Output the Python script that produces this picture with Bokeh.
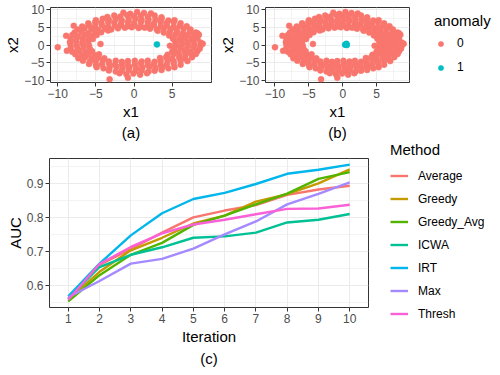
from bokeh.plotting import figure
from bokeh.models import Range1d, FixedTicker, Legend, LegendItem, Title
from bokeh.layouts import column, row
from bokeh.embed import file_html
from bokeh.resources import INLINE

FONT = "Liberation Sans"

# ---------------- data: ring scatter (x1, x2) ----------------
ring_x1 = [
    -1.4, -0.5, 0.4, 1.3, 2.2,
    -3.5, -2.6, -1.8, -0.9, 0.0, 0.9, 1.8, 2.7, 3.6,
    -5.0, -4.1, -3.3, -2.4, -1.6, -0.7, 0.2, 1.0, 1.9, 2.8, 3.6, 4.5, 5.3,
    -6.0, -5.1, -4.3, -3.4, -2.6, -1.7, -0.8, 0.0, 0.9, 1.8, 2.6, 3.5, 4.3, 5.2, 6.1,
    -6.8, -5.9, -5.1, -4.2, -3.4, -2.5, -1.7, -0.8, 0.1, 0.9, 1.8, 2.6, 3.5, 4.3, 5.2, 6.0, 6.9,
    -1.2, -0.3, 0.6, 1.4,
    -7.4, -6.5, -5.6, -4.7, -3.8, -3.0, -2.1, 2.1, 3.0, 3.9, 4.8, 5.6, 6.5, 7.4,
    -3.4, 3.1,
    -7.8, -6.9, -6.0, -5.1, -4.3, 3.9, 4.7, 5.6, 6.4, 7.3, 8.1,
    -8.1, -7.3, -6.5, -5.6, -4.9, 4.6, 5.4, 6.2, 7.0, 7.8, 8.5,
    -8.3, -7.5, -6.7, -5.9, -5.4, 5.1, 5.9, 6.7, 7.5, 8.3,
    -8.4, -7.6, -6.8, -6.0, 5.4, 6.2, 7.0, 7.8, 8.7,
    -8.3, -7.5, -6.7, -5.9, 5.5, 6.3, 7.1, 7.9, 8.7,
    -8.3, -7.4, -6.6, -5.8, 5.3, 6.1, 6.9, 7.8, 8.6,
    -8.1, -7.2, -6.4, -5.5, 5.0, 5.8, 6.6, 7.4, 8.3,
    -7.7, -6.9, -6.0, -5.2, -4.6, 4.4, 5.2, 6.0, 6.8, 7.6, 8.1,
    -7.3, -6.4, -5.6, -4.7, -3.9, 3.4, 4.2, 5.0, 5.9, 6.7, 7.6,
    -6.7, -5.8, -5.0, -4.1, -3.3, -2.4, -1.6, -0.8, 0.1, 1.0, 1.8, 2.7, 3.5, 4.4, 5.2, 6.1, 7.0,
    -5.9, -5.0, -4.2, -3.3, -2.5, -1.6, -0.8, 0.1, 0.9, 1.8, 2.6, 3.5, 4.3, 5.2, 6.1,
    -4.9, -4.0, -3.2, -2.3, -1.5, -0.6, 0.3, 1.1, 2.0, 2.8, 3.7, 4.5, 5.3,
    -3.3, -2.4, -1.6, -0.7, 0.2, 1.0, 1.9, 2.7, 3.6,
    -1.9, -1.0, -0.1, 0.8, 1.7,
    -10.0, -8.9, -7.9, -3.2, -0.8, 9.0, 8.3, -8.8, -4.4, 4.7,
]
ring_x2 = [
    9.1, 8.8, 9.3, 9.0, 8.9,
    7.9, 8.3, 8.0, 8.4, 8.1, 8.2, 7.9, 8.3, 7.8,
    7.0, 7.4, 7.1, 7.3, 6.9, 7.2, 7.4, 7.0, 7.2, 7.1, 7.4, 6.9, 7.0,
    6.1, 6.4, 6.2, 6.5, 6.3, 6.1, 6.4, 6.2, 6.5, 6.3, 6.0, 6.4, 6.2, 6.5, 6.1,
    5.2, 5.5, 5.3, 5.6, 5.2, 5.4, 5.6, 5.3, 5.5, 5.2, 5.4, 5.6, 5.3, 5.5, 5.2, 5.4, 5.3,
    4.9, 5.0, 4.8, 4.9,
    4.4, 4.7, 4.5, 4.3, 4.6, 4.4, 4.7, 4.6, 4.4, 4.7, 4.5, 4.3, 4.6, 4.4,
    4.1, 4.0,
    3.5, 3.8, 3.4, 3.7, 3.6, 3.5, 3.8, 3.6, 3.4, 3.7, 3.5,
    2.8, 2.5, 2.9, 2.6, 2.8, 2.7, 2.9, 2.5, 2.8, 2.6, 2.9,
    1.7, 2.0, 1.6, 1.9, 1.7, 1.8, 1.6, 2.0, 1.7, 1.9,
    0.8, 1.1, 0.7, 1.0, 0.9, 1.1, 0.8, 1.0, 0.7,
    0.1, -0.2, 0.2, -0.1, 0.0, 0.2, -0.1, 0.1, -0.2,
    -0.8, -1.1, -0.7, -1.0, -0.9, -0.7, -1.1, -0.8, -1.0,
    -1.9, -1.6, -2.0, -1.7, -1.8, -2.0, -1.6, -1.9, -1.7,
    -2.6, -2.9, -2.5, -2.8, -2.6, -2.7, -2.5, -2.9, -2.6, -2.8, -2.5,
    -3.7, -3.4, -3.8, -3.5, -3.7, -3.6, -3.4, -3.8, -3.5, -3.7, -3.4,
    -4.4, -4.7, -4.5, -4.3, -4.6, -4.4, -4.7, -4.5, -4.4, -4.6, -4.4, -4.7, -4.5, -4.3, -4.6, -4.4, -4.5,
    -5.3, -5.6, -5.4, -5.2, -5.5, -5.3, -5.6, -5.4, -5.2, -5.5, -5.3, -5.6, -5.4, -5.2, -5.5,
    -6.2, -6.5, -6.3, -6.1, -6.4, -6.2, -6.5, -6.3, -6.1, -6.4, -6.2, -6.5, -6.2,
    -7.1, -7.4, -7.2, -7.0, -7.3, -7.1, -7.4, -7.2, -7.0,
    -7.9, -8.2, -8.0, -8.3, -7.9,
    -0.6, 2.6, 5.4, -9.6, -9.2, 0.4, 3.3, -1.6, 0.3, -0.2,
]
anom_a_x1 = [3.0]
anom_a_x2 = [0.2]
anom_b_x1 = [0.35, 0.55, 0.6, 0.45]
anom_b_x2 = [0.1, 0.35, 0.0, 0.2]
anomaly_labels = ["0", "1"]

scatter_xticks = [-10, -5, 0, 5]
scatter_xminor = [-7.5, -2.5, 2.5, 7.5]
scatter_yticks = [-10, -5, 0, 5, 10]
scatter_yminor = [-7.5, -2.5, 2.5, 7.5]

# ---------------- data: AUC by iteration ----------------
iteration = [1, 2, 3, 4, 5, 6, 7, 8, 9, 10]
methods = ["Average", "Greedy", "Greedy_Avg", "ICWA", "IRT", "Max", "Thresh"]
auc_average = [0.560, 0.660, 0.707, 0.755, 0.800, 0.820, 0.836, 0.866, 0.882, 0.893]
auc_greedy = [0.558, 0.640, 0.703, 0.740, 0.782, 0.805, 0.846, 0.868, 0.900, 0.941]
auc_greedy_avg = [0.553, 0.630, 0.690, 0.725, 0.778, 0.805, 0.838, 0.870, 0.913, 0.933]
auc_icwa = [0.562, 0.654, 0.690, 0.712, 0.740, 0.744, 0.755, 0.785, 0.793, 0.810]
auc_irt = [0.568, 0.664, 0.747, 0.812, 0.854, 0.872, 0.898, 0.928, 0.940, 0.955]
auc_max = [0.565, 0.613, 0.664, 0.678, 0.708, 0.750, 0.788, 0.838, 0.869, 0.903]
auc_thresh = [0.558, 0.663, 0.713, 0.753, 0.779, 0.793, 0.809, 0.825, 0.826, 0.837]
auc_series = [auc_average, auc_greedy, auc_greedy_avg, auc_icwa, auc_irt, auc_max, auc_thresh]
auc_yticks = [0.6, 0.7, 0.8, 0.9]
auc_yminor = [0.55, 0.65, 0.75, 0.85, 0.95]

method_colors = ["#F8766D", "#C49A00", "#53B400", "#00C094", "#00B6EB", "#A58AFF", "#FB61D7"]
anomaly_colors = ["#F8766D", "#00BFC4"]


def style(p, xt, xm, yt, ym, xlabel, ylabel):
    p.background_fill_color = "white"
    p.border_fill_color = "white"
    p.outline_line_color = "#333333"
    p.outline_line_width = 1
    xtick = FixedTicker(ticks=xt, minor_ticks=xm)
    ytick = FixedTicker(ticks=yt, minor_ticks=ym)
    p.xaxis[0].ticker = xtick
    p.yaxis[0].ticker = ytick
    p.xgrid[0].ticker = xtick
    p.ygrid[0].ticker = ytick
    for g in (p.xgrid[0], p.ygrid[0]):
        g.grid_line_color = "#EBEBEB"
        g.grid_line_width = 1
        g.minor_grid_line_color = "#EBEBEB"
        g.minor_grid_line_width = 0.6
    for ax in (p.xaxis[0], p.yaxis[0]):
        ax.axis_line_color = None
        ax.major_tick_line_color = "#333333"
        ax.major_tick_in = 0
        ax.major_tick_out = 4
        ax.minor_tick_line_color = None
        ax.major_label_text_font = FONT
        ax.major_label_text_font_size = "12px"
        ax.major_label_text_color = "#4D4D4D"
        ax.axis_label_text_font = FONT
        ax.axis_label_text_font_size = "15px"
        ax.axis_label_text_font_style = "normal"
        ax.axis_label_text_color = "black"
        ax.major_label_standoff = 2
    p.xaxis[0].axis_label_standoff = 2
    p.yaxis[0].axis_label_standoff = 0
    p.xaxis[0].axis_label = xlabel
    p.yaxis[0].axis_label = ylabel


def caption(p, text, standoff):
    p.add_layout(Title(text=text, align="center", text_font=FONT, text_font_size="15px",
                       text_font_style="normal", text_color="black", standoff=standoff), "below")


def legend_style(**kw):
    base = dict(title_text_font=FONT, title_text_font_size="15px", title_text_font_style="normal",
                title_text_color="black",
                label_text_font=FONT, label_text_font_size="12px", label_text_color="black",
                padding=0, margin=0, border_line_color=None, background_fill_alpha=0)
    base.update(kw)
    return base


# ---------------- panel (a) ----------------
pa = figure(frame_width=161, frame_height=75, output_backend="svg", toolbar_location=None,
            x_range=Range1d(-10.95, 10.15), y_range=Range1d(-10.5, 10.55),
            min_border_left=50, min_border_right=4, min_border_top=7, min_border_bottom=61)
style(pa, scatter_xticks, scatter_xminor, scatter_yticks, scatter_yminor, "x1", "x2")
pa.scatter(ring_x1, ring_x2, size=6, fill_color=anomaly_colors[0], line_color=anomaly_colors[0], line_width=0.5)
pa.scatter(anom_a_x1, anom_a_x2, size=6, fill_color=anomaly_colors[1], line_color=anomaly_colors[1], line_width=0.5)
caption(pa, "(a)", -1)

# ---------------- panel (b) ----------------
pb = figure(frame_width=144, frame_height=75, output_backend="svg", toolbar_location=None,
            x_range=Range1d(-11.4, 9.85), y_range=Range1d(-10.5, 10.55),
            min_border_left=50, min_border_right=87, min_border_top=7, min_border_bottom=61)
style(pb, scatter_xticks, scatter_xminor, scatter_yticks, scatter_yminor, "x1", "x2")
rb0 = pb.scatter(ring_x1, ring_x2, size=6, fill_color=anomaly_colors[0], line_color=anomaly_colors[0], line_width=0.5)
rb1 = pb.scatter(anom_b_x1, anom_b_x2, size=6, fill_color=anomaly_colors[1], line_color=anomaly_colors[1], line_width=0.5)
leg_b = Legend(items=[LegendItem(label=anomaly_labels[0], renderers=[rb0]),
                      LegendItem(label=anomaly_labels[1], renderers=[rb1])],
               location=(25, 8), title="anomaly", title_standoff=7,
               glyph_width=13, glyph_height=13, label_height=13, spacing=10, label_standoff=10,
               **legend_style())
pb.add_layout(leg_b, "right")
caption(pb, "(b)", -1)

# ---------------- panel (c) ----------------
pc = figure(frame_width=319, frame_height=149, output_backend="svg", toolbar_location=None,
            x_range=Range1d(0.4, 10.6), y_range=Range1d(0.535, 0.973),
            min_border_left=49, min_border_right=128, min_border_top=15, min_border_bottom=64)
style(pc, iteration, [], auc_yticks, auc_yminor, "Iteration", "AUC")
pc.xaxis[0].axis_label_standoff = 2
items = []
for name, vals, col in zip(methods, auc_series, method_colors):
    r = pc.line(iteration, vals, line_width=2.4, line_color=col)
    items.append(LegendItem(label=name, renderers=[r]))
leg_c = Legend(items=items, location=(22, -18), title="Method", title_standoff=6,
               glyph_width=18, glyph_height=23, label_height=23, spacing=0, label_standoff=10,
               **legend_style())
pc.add_layout(leg_c, "right")
caption(pc, "(c)", 1)

layout = column(row(pa, pb), pc)
open("out.html", "w").write(file_html(layout, INLINE))
